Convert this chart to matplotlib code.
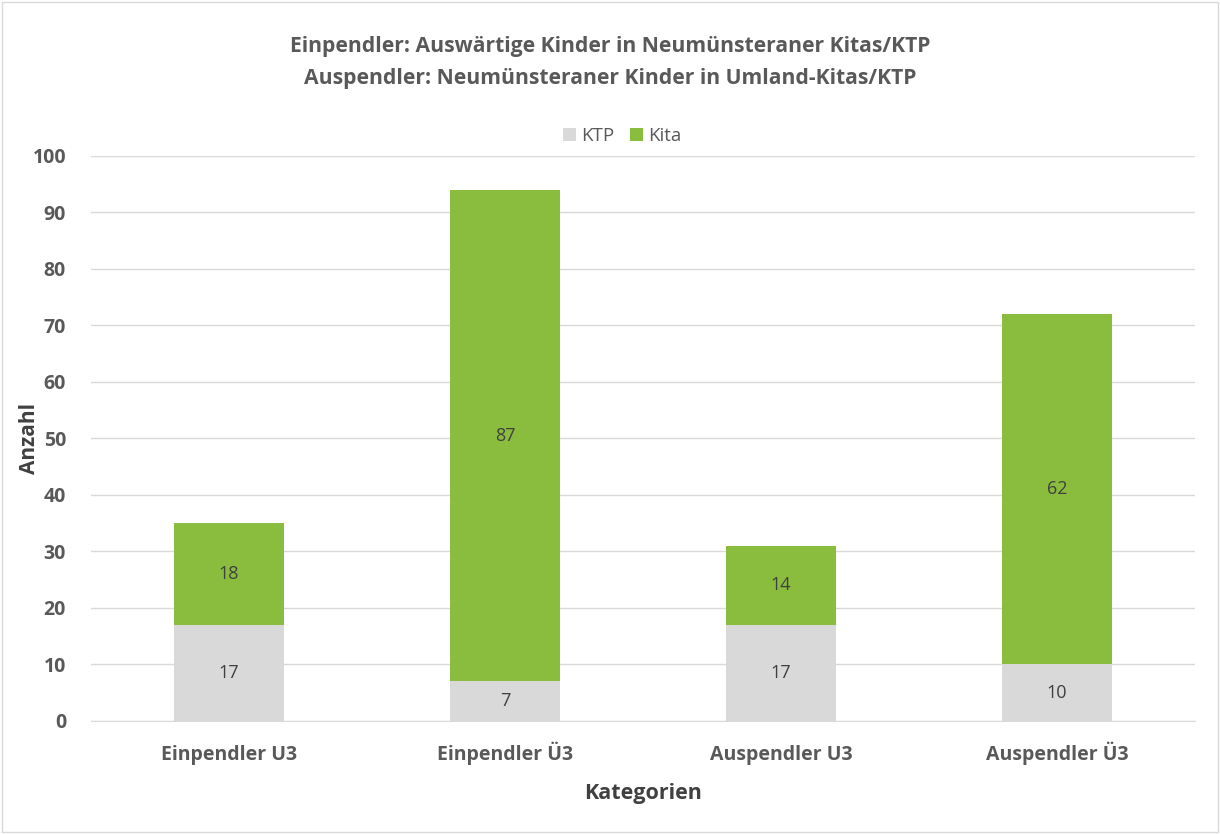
import matplotlib.pyplot as plt
import matplotlib.patches as mpatches
import numpy as np

# ── DATA ───────────────────────────────────────────────────
categories = ["Einpendler U3", "Einpendler Ü3", "Auspendler U3", "Auspendler Ü3"]
ktp = [17, 7, 17, 10]
kita = [18, 87, 14, 62]
y_ticks = [0, 10, 20, 30, 40, 50, 60, 70, 80, 90, 100]

# ── PALETTE ────────────────────────────────────────────────
GREY_BAR = "#D9D9D9"
GREEN = "#8ABD3E"
TEXT = "#595959"
GRID = "#D9D9D9"

plt.rcParams["font.family"] = ["Open Sans", "DejaVu Sans"]

fig = plt.figure(figsize=(12.2, 8.34), dpi=100)
ax = fig.add_axes([0.0746, 0.1355, 0.905, 0.6775])

x = np.arange(len(categories))
w = 0.4
ax.bar(x, ktp, w, color=GREY_BAR, label="KTP", zorder=3)
ax.bar(x, kita, w, bottom=ktp, color=GREEN, label="Kita", zorder=3)

for i in range(len(categories)):
    ax.text(x[i], ktp[i] / 2, str(ktp[i]), ha="center", va="center",
            fontsize=13, color="#404040", zorder=4)
    ax.text(x[i], ktp[i] + kita[i] / 2, str(kita[i]), ha="center", va="center",
            fontsize=13, color="#404040", zorder=4)

ax.set_xlim(-0.5, 3.5)
ax.set_ylim(0, 100)
ax.set_yticks(y_ticks)
ax.set_xticks(x)
ax.set_xticklabels(categories)
ax.tick_params(axis="both", length=0, labelsize=14, colors=TEXT)
ax.tick_params(axis="x", pad=28)
ax.tick_params(axis="y", pad=18)
for lbl in ax.get_xticklabels():
    lbl.set_fontweight("bold")
    lbl.set_verticalalignment("baseline")
for lbl in ax.get_yticklabels():
    lbl.set_fontweight("bold")
ax.grid(axis="y", color=GRID, linewidth=1, zorder=0)
for s in ["left", "right", "top"]:
    ax.spines[s].set_visible(False)
ax.spines["bottom"].set_color(GRID)

ax.set_ylabel("Anzahl", fontsize=15, fontweight="bold", color="#404040", va="center")
ax.yaxis.set_label_coords(-(91 - 29) / 1104, 0.5)
ax.set_xlabel("Kategorien", fontsize=15.5, fontweight="bold", color="#404040", va="center")
ax.xaxis.set_label_coords(0.5, -(794 - 721) / 565)

fig.text(0.5, 0.944, "Einpendler: Auswärtige Kinder in Neumünsteraner Kitas/KTP",
         ha="center", va="center", fontsize=15.2, fontweight="bold", color=TEXT)
fig.text(0.5, 0.906, "Auspendler: Neumünsteraner Kinder in Umland-Kitas/KTP",
         ha="center", va="center", fontsize=15.2, fontweight="bold", color=TEXT)

ax.legend(loc="center", bbox_to_anchor=(0.481, 1.0 + (156 - 136) / 565), ncol=2,
          frameon=False, fontsize=13.5, labelcolor=TEXT, handlelength=0.7,
          handleheight=0.7, columnspacing=0.8, handletextpad=0.3)

fig.patches.append(mpatches.Rectangle((0.002, 0.002), 0.996, 0.996,
                                      transform=fig.transFigure, fill=False,
                                      edgecolor="#D9D9D9", linewidth=1))

plt.savefig("out.png", dpi=100)
